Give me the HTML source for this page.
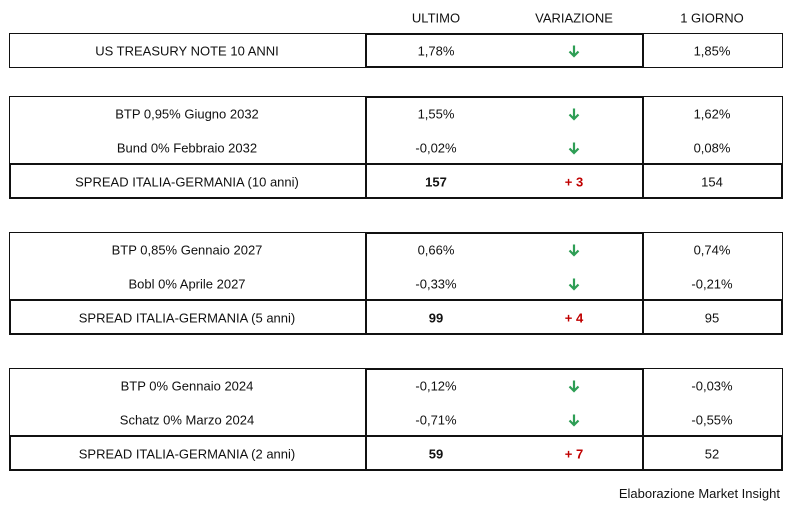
<!DOCTYPE html>
<html><head><meta charset="utf-8"><style>
body{margin:0;width:794px;height:505px;background:#fff;position:relative;font-family:"Liberation Sans",sans-serif;font-size:13px;color:#111;overflow:hidden}
.b{position:absolute;box-sizing:border-box}
.t{position:absolute;transform:translate(-50%,-50%);white-space:nowrap}
.r{color:#c00000;font-weight:bold}
.a{position:absolute;width:12px;height:13px;transform:translate(-50%,-50%)}
</style></head><body>
<svg width="0" height="0" style="position:absolute"><defs><g id="ar"><path d="M6 1 V11.5 M1.5 7 L6 11.5 L10.5 7" stroke="#2e9e55" stroke-width="2.2" fill="none"/></g></defs></svg>
<div class="t" style="left:436px;top:18px">ULTIMO</div>
<div class="t" style="left:574px;top:18px">VARIAZIONE</div>
<div class="t" style="left:712px;top:18px">1 GIORNO</div>

<div class="b" style="left:9px;top:33px;width:358px;height:35px;border:1px solid #111"></div>
<div class="b" style="left:365px;top:33px;width:279px;height:35px;border:2px solid #111"></div>
<div class="b" style="left:642px;top:33px;width:141px;height:35px;border:1px solid #111"></div>
<div class="t" style="left:187px;top:51px">US TREASURY NOTE 10 ANNI</div>
<div class="t" style="left:436px;top:51px">1,78%</div>
<svg class="a" style="left:574px;top:51px"><use href="#ar"/></svg>
<div class="t" style="left:712px;top:51px">1,85%</div>

<div class="b" style="left:9px;top:96px;width:358px;height:103px;border:1px solid #111"></div>
<div class="b" style="left:365px;top:96px;width:279px;height:103px;border:2px solid #111"></div>
<div class="b" style="left:642px;top:96px;width:141px;height:103px;border:1px solid #111"></div>
<div class="b" style="left:9px;top:163px;width:774px;height:36px;border:2px solid #111"></div>
<div class="b" style="left:642px;top:163px;width:2px;height:36px;background:#111"></div>
<div class="b" style="left:365px;top:163px;width:2px;height:36px;background:#111"></div>
<div class="t" style="left:187px;top:114px">BTP 0,95% Giugno 2032</div>
<div class="t" style="left:187px;top:148px">Bund 0% Febbraio 2032</div>
<div class="t" style="left:187px;top:182px">SPREAD ITALIA-GERMANIA (10 anni)</div>
<div class="t" style="left:436px;top:114px">1,55%</div>
<div class="t" style="left:436px;top:148px">-0,02%</div>
<div class="t" style="left:436px;top:182px;font-weight:bold">157</div>
<svg class="a" style="left:574px;top:114px"><use href="#ar"/></svg>
<svg class="a" style="left:574px;top:148px"><use href="#ar"/></svg>
<div class="t r" style="left:574px;top:182px">+ 3</div>
<div class="t" style="left:712px;top:114px">1,62%</div>
<div class="t" style="left:712px;top:148px">0,08%</div>
<div class="t" style="left:712px;top:182px">154</div>

<div class="b" style="left:9px;top:232px;width:358px;height:103px;border:1px solid #111"></div>
<div class="b" style="left:365px;top:232px;width:279px;height:103px;border:2px solid #111"></div>
<div class="b" style="left:642px;top:232px;width:141px;height:103px;border:1px solid #111"></div>
<div class="b" style="left:9px;top:299px;width:774px;height:36px;border:2px solid #111"></div>
<div class="b" style="left:642px;top:299px;width:2px;height:36px;background:#111"></div>
<div class="b" style="left:365px;top:299px;width:2px;height:36px;background:#111"></div>
<div class="t" style="left:187px;top:250px">BTP 0,85% Gennaio 2027</div>
<div class="t" style="left:187px;top:284px">Bobl 0% Aprile 2027</div>
<div class="t" style="left:187px;top:318px">SPREAD ITALIA-GERMANIA (5 anni)</div>
<div class="t" style="left:436px;top:250px">0,66%</div>
<div class="t" style="left:436px;top:284px">-0,33%</div>
<div class="t" style="left:436px;top:318px;font-weight:bold">99</div>
<svg class="a" style="left:574px;top:250px"><use href="#ar"/></svg>
<svg class="a" style="left:574px;top:284px"><use href="#ar"/></svg>
<div class="t r" style="left:574px;top:318px">+ 4</div>
<div class="t" style="left:712px;top:250px">0,74%</div>
<div class="t" style="left:712px;top:284px">-0,21%</div>
<div class="t" style="left:712px;top:318px">95</div>

<div class="b" style="left:9px;top:368px;width:358px;height:103px;border:1px solid #111"></div>
<div class="b" style="left:365px;top:368px;width:279px;height:103px;border:2px solid #111"></div>
<div class="b" style="left:642px;top:368px;width:141px;height:103px;border:1px solid #111"></div>
<div class="b" style="left:9px;top:435px;width:774px;height:36px;border:2px solid #111"></div>
<div class="b" style="left:642px;top:435px;width:2px;height:36px;background:#111"></div>
<div class="b" style="left:365px;top:435px;width:2px;height:36px;background:#111"></div>
<div class="t" style="left:187px;top:386px">BTP 0% Gennaio 2024</div>
<div class="t" style="left:187px;top:420px">Schatz 0% Marzo 2024</div>
<div class="t" style="left:187px;top:454px">SPREAD ITALIA-GERMANIA (2 anni)</div>
<div class="t" style="left:436px;top:386px">-0,12%</div>
<div class="t" style="left:436px;top:420px">-0,71%</div>
<div class="t" style="left:436px;top:454px;font-weight:bold">59</div>
<svg class="a" style="left:574px;top:386px"><use href="#ar"/></svg>
<svg class="a" style="left:574px;top:420px"><use href="#ar"/></svg>
<div class="t r" style="left:574px;top:454px">+ 7</div>
<div class="t" style="left:712px;top:386px">-0,03%</div>
<div class="t" style="left:712px;top:420px">-0,55%</div>
<div class="t" style="left:712px;top:454px">52</div>

<div class="b" style="right:14px;top:486px;white-space:nowrap">Elaborazione Market Insight</div>
</body></html>
